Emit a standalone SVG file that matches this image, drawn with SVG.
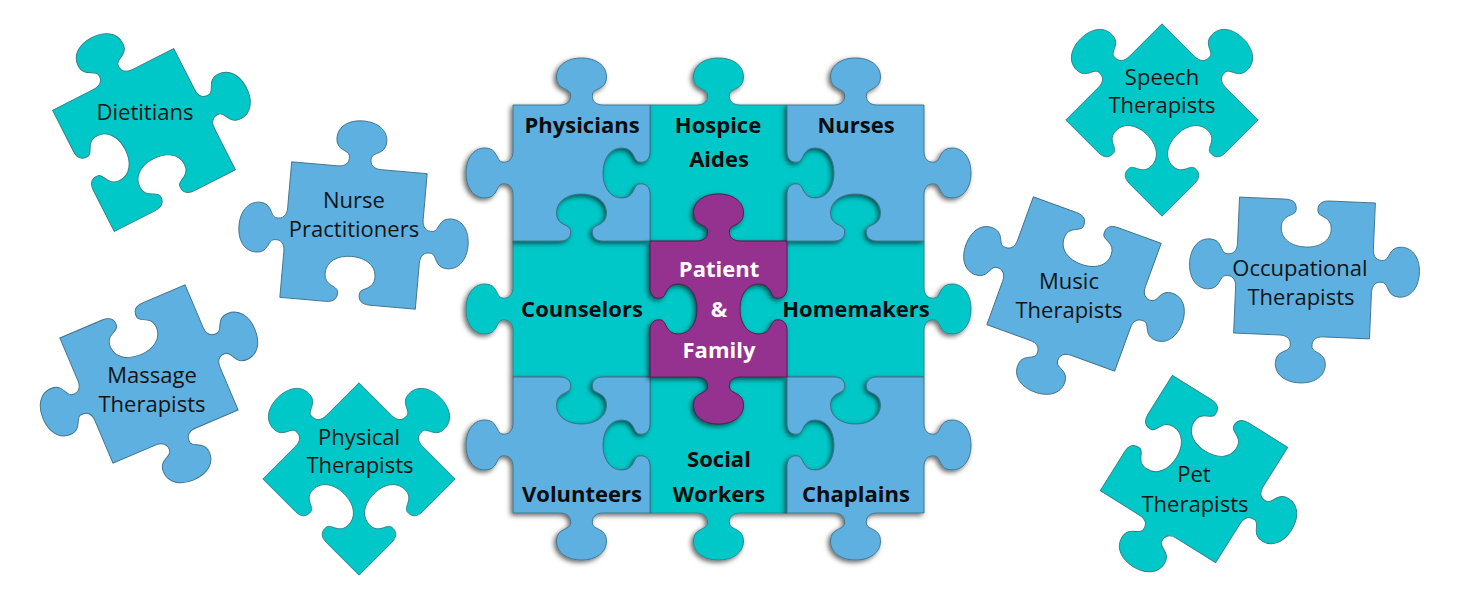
<svg xmlns="http://www.w3.org/2000/svg" xmlns:xlink="http://www.w3.org/1999/xlink" width="1461" height="600" viewBox="0 0 1461 600">
<style>
.blue{fill:#5DB0E0;stroke:#3f6f86;stroke-width:0.9}
.cyan{fill:#00C8C8;stroke:#2f7f86;stroke-width:0.9}
.purple{fill:#95318F;stroke:#4a2048;stroke-width:0.9}
.grid{filter:url(#sh)}
.tb{font-family:"Open Sans","Liberation Sans",sans-serif;font-weight:700;font-size:22px;fill:#0d0d0d;text-anchor:middle}
.tw{fill:#ffffff}
.tr{font-family:"Open Sans","Liberation Sans",sans-serif;font-weight:400;font-size:22px;fill:#141414;text-anchor:middle}
</style>
<defs>
<filter id="sh" x="-20%" y="-20%" width="140%" height="140%">
<feDropShadow dx="-2" dy="2" stdDeviation="2.5" flood-color="#000" flood-opacity="0.6"/>
</filter>
<!-- free piece shapes, 136x136 centred -->
<path id="pTTRTBBLB" d="M-68,-68 h46 c8,0 12,-4 11,-11 c-1,-6 -14,-4 -14,-17 c0,-12 11,-19 25,-19 c14,0 25,7 25,19 c0,13 -13,11 -14,17 c-1,7 3,11 11,11 h46 v46 c0,8 4,12 11,11 c6,-1 4,-14 17,-14 c12,0 19,11 19,25 c0,14 -7,25 -19,25 c-13,0 -11,-13 -17,-14 c-7,-1 -11,3 -11,11 v46 h-46 c-8,0 -12,-4 -11,-11 c1,-6 14,-4 14,-17 c0,-12 -11,-19 -25,-19 c-14,0 -25,7 -25,19 c0,13 13,11 14,17 c1,7 -3,11 -11,11 h-46 v-46 c0,-8 4,-12 11,-11 c6,1 4,14 17,14 c12,0 19,-11 19,-25 c0,-14 -7,-25 -19,-25 c-13,0 -11,13 -17,14 c-7,1 -11,-3 -11,-11 v-46 Z"/>
<path id="pTTRTBBLT" d="M-68,-68 h46 c8,0 12,-4 11,-11 c-1,-6 -14,-4 -14,-17 c0,-12 11,-19 25,-19 c14,0 25,7 25,19 c0,13 -13,11 -14,17 c-1,7 3,11 11,11 h46 v46 c0,8 4,12 11,11 c6,-1 4,-14 17,-14 c12,0 19,11 19,25 c0,14 -7,25 -19,25 c-13,0 -11,-13 -17,-14 c-7,-1 -11,3 -11,11 v46 h-46 c-8,0 -12,-4 -11,-11 c1,-6 14,-4 14,-17 c0,-12 -11,-19 -25,-19 c-14,0 -25,7 -25,19 c0,13 13,11 14,17 c1,7 -3,11 -11,11 h-46 v-46 c0,-8 -4,-12 -11,-11 c-6,1 -4,14 -17,14 c-12,0 -19,-11 -19,-25 c0,-14 7,-25 19,-25 c13,0 11,13 17,14 c7,1 11,-3 11,-11 v-46 Z"/>
<path id="pTBRTBTLT" d="M-68,-68 h46 c8,0 12,4 11,11 c-1,6 -14,4 -14,17 c0,12 11,19 25,19 c14,0 25,-7 25,-19 c0,-13 -13,-11 -14,-17 c-1,-7 3,-11 11,-11 h46 v46 c0,8 4,12 11,11 c6,-1 4,-14 17,-14 c12,0 19,11 19,25 c0,14 -7,25 -19,25 c-13,0 -11,-13 -17,-14 c-7,-1 -11,3 -11,11 v46 h-46 c-8,0 -12,4 -11,11 c1,6 14,4 14,17 c0,12 -11,19 -25,19 c-14,0 -25,-7 -25,-19 c0,-13 13,-11 14,-17 c1,-7 -3,-11 -11,-11 h-46 v-46 c0,-8 -4,-12 -11,-11 c-6,1 -4,14 -17,14 c-12,0 -19,-11 -19,-25 c0,-14 7,-25 19,-25 c13,0 11,13 17,14 c7,1 11,-3 11,-11 v-46 Z"/>
<path id="pTTRBBBLT" d="M-68,-68 h46 c8,0 12,-4 11,-11 c-1,-6 -14,-4 -14,-17 c0,-12 11,-19 25,-19 c14,0 25,7 25,19 c0,13 -13,11 -14,17 c-1,7 3,11 11,11 h46 v46 c0,8 -4,12 -11,11 c-6,-1 -4,-14 -17,-14 c-12,0 -19,11 -19,25 c0,14 7,25 19,25 c13,0 11,-13 17,-14 c7,-1 11,3 11,11 v46 h-46 c-8,0 -12,-4 -11,-11 c1,-6 14,-4 14,-17 c0,-12 -11,-19 -25,-19 c-14,0 -25,7 -25,19 c0,13 13,11 14,17 c1,7 -3,11 -11,11 h-46 v-46 c0,-8 -4,-12 -11,-11 c-6,1 -4,14 -17,14 c-12,0 -19,-11 -19,-25 c0,-14 7,-25 19,-25 c13,0 11,13 17,14 c7,1 11,-3 11,-11 v-46 Z"/>
<path id="pTBRTBTLB" d="M-68,-68 h46 c8,0 12,4 11,11 c-1,6 -14,4 -14,17 c0,12 11,19 25,19 c14,0 25,-7 25,-19 c0,-13 -13,-11 -14,-17 c-1,-7 3,-11 11,-11 h46 v46 c0,8 4,12 11,11 c6,-1 4,-14 17,-14 c12,0 19,11 19,25 c0,14 -7,25 -19,25 c-13,0 -11,-13 -17,-14 c-7,-1 -11,3 -11,11 v46 h-46 c-8,0 -12,4 -11,11 c1,6 14,4 14,17 c0,12 -11,19 -25,19 c-14,0 -25,-7 -25,-19 c0,-13 13,-11 14,-17 c1,-7 -3,-11 -11,-11 h-46 v-46 c0,-8 4,-12 11,-11 c6,1 4,14 17,14 c12,0 19,-11 19,-25 c0,-14 -7,-25 -19,-25 c-13,0 -11,13 -17,14 c-7,1 -11,-3 -11,-11 v-46 Z"/>
</defs>
<rect width="1461" height="600" fill="#ffffff"/>

<!-- central grid: cyan pieces (lowest) -->
<g id="hospice-aides" class="grid">
<path class="cyan" d="M650,105 h46.5 c8,0 12,-4 11,-11 c-1,-6 -14,-4 -14,-17 c0,-12 11,-19 25,-19 c14,0 25,7 25,19 c0,13 -13,11 -14,17 c-1,7 3,11 11,11 h46.5 v46 c0,8 4,12 11,11 c6,-1 4,-14 17,-14 c12,0 19,11 19,25 c0,14 -7,25 -19,25 c-13,0 -11,-13 -17,-14 c-7,-1 -11,3 -11,11 v46 h-46.5 c-8,0 -12,-4 -11,-11 c1,-6 14,-4 14,-17 c0,-12 -11,-19 -25,-19 c-14,0 -25,7 -25,19 c0,13 13,11 14,17 c1,7 -3,11 -11,11 h-46.5 v-46 c0,-8 -4,-12 -11,-11 c-6,1 -4,14 -17,14 c-12,0 -19,-11 -19,-25 c0,-14 7,-25 19,-25 c13,0 11,13 17,14 c7,1 11,-3 11,-11 v-46 Z"/>
</g>
<g id="counselors" class="grid">
<path class="cyan" d="M513,241 h46.5 c8,0 12,-4 11,-11 c-1,-6 -14,-4 -14,-17 c0,-12 11,-19 25,-19 c14,0 25,7 25,19 c0,13 -13,11 -14,17 c-1,7 3,11 11,11 h46.5 v46 c0,8 4,12 11,11 c6,-1 4,-14 17,-14 c12,0 19,11 19,25 c0,14 -7,25 -19,25 c-13,0 -11,-13 -17,-14 c-7,-1 -11,3 -11,11 v46 h-46.5 c-8,0 -12,4 -11,11 c1,6 14,4 14,17 c0,12 -11,19 -25,19 c-14,0 -25,-7 -25,-19 c0,-13 13,-11 14,-17 c1,-7 -3,-11 -11,-11 h-46.5 v-46 c0,-8 -4,-12 -11,-11 c-6,1 -4,14 -17,14 c-12,0 -19,-11 -19,-25 c0,-14 7,-25 19,-25 c13,0 11,13 17,14 c7,1 11,-3 11,-11 v-46 Z"/>
</g>
<g id="homemakers" class="grid">
<path class="cyan" d="M787,241 h46.5 c8,0 12,-4 11,-11 c-1,-6 -14,-4 -14,-17 c0,-12 11,-19 25,-19 c14,0 25,7 25,19 c0,13 -13,11 -14,17 c-1,7 3,11 11,11 h46.5 v46 c0,8 4,12 11,11 c6,-1 4,-14 17,-14 c12,0 19,11 19,25 c0,14 -7,25 -19,25 c-13,0 -11,-13 -17,-14 c-7,-1 -11,3 -11,11 v46 h-46.5 c-8,0 -12,4 -11,11 c1,6 14,4 14,17 c0,12 -11,19 -25,19 c-14,0 -25,-7 -25,-19 c0,-13 13,-11 14,-17 c1,-7 -3,-11 -11,-11 h-46.5 v-46 c0,-8 -4,-12 -11,-11 c-6,1 -4,14 -17,14 c-12,0 -19,-11 -19,-25 c0,-14 7,-25 19,-25 c13,0 11,13 17,14 c7,1 11,-3 11,-11 v-46 Z"/>
</g>
<g id="social-workers" class="grid">
<path class="cyan" d="M650,377 h46.5 c8,0 12,4 11,11 c-1,6 -14,4 -14,17 c0,12 11,19 25,19 c14,0 25,-7 25,-19 c0,-13 -13,-11 -14,-17 c-1,-7 3,-11 11,-11 h46.5 v46 c0,8 4,12 11,11 c6,-1 4,-14 17,-14 c12,0 19,11 19,25 c0,14 -7,25 -19,25 c-13,0 -11,-13 -17,-14 c-7,-1 -11,3 -11,11 v46 h-46.5 c-8,0 -12,4 -11,11 c1,6 14,4 14,17 c0,12 -11,19 -25,19 c-14,0 -25,-7 -25,-19 c0,-13 13,-11 14,-17 c1,-7 -3,-11 -11,-11 h-46.5 v-46 c0,-8 -4,-12 -11,-11 c-6,1 -4,14 -17,14 c-12,0 -19,-11 -19,-25 c0,-14 7,-25 19,-25 c13,0 11,13 17,14 c7,1 11,-3 11,-11 v-46 Z"/>
</g>

<!-- central grid: blue pieces -->
<g id="physicians" class="grid">
<path class="blue" d="M513,105 h46.5 c8,0 12,-4 11,-11 c-1,-6 -14,-4 -14,-17 c0,-12 11,-19 25,-19 c14,0 25,7 25,19 c0,13 -13,11 -14,17 c-1,7 3,11 11,11 h46.5 v46 c0,8 -4,12 -11,11 c-6,-1 -4,-14 -17,-14 c-12,0 -19,11 -19,25 c0,14 7,25 19,25 c13,0 11,-13 17,-14 c7,-1 11,3 11,11 v46 h-46.5 c-8,0 -12,-4 -11,-11 c1,-6 14,-4 14,-17 c0,-12 -11,-19 -25,-19 c-14,0 -25,7 -25,19 c0,13 13,11 14,17 c1,7 -3,11 -11,11 h-46.5 v-46 c0,-8 -4,-12 -11,-11 c-6,1 -4,14 -17,14 c-12,0 -19,-11 -19,-25 c0,-14 7,-25 19,-25 c13,0 11,13 17,14 c7,1 11,-3 11,-11 v-46 Z"/>
</g>
<g id="nurses" class="grid">
<path class="blue" d="M787,105 h46.5 c8,0 12,-4 11,-11 c-1,-6 -14,-4 -14,-17 c0,-12 11,-19 25,-19 c14,0 25,7 25,19 c0,13 -13,11 -14,17 c-1,7 3,11 11,11 h46.5 v46 c0,8 4,12 11,11 c6,-1 4,-14 17,-14 c12,0 19,11 19,25 c0,14 -7,25 -19,25 c-13,0 -11,-13 -17,-14 c-7,-1 -11,3 -11,11 v46 h-46.5 c-8,0 -12,-4 -11,-11 c1,-6 14,-4 14,-17 c0,-12 -11,-19 -25,-19 c-14,0 -25,7 -25,19 c0,13 13,11 14,17 c1,7 -3,11 -11,11 h-46.5 v-46 c0,-8 4,-12 11,-11 c6,1 4,14 17,14 c12,0 19,-11 19,-25 c0,-14 -7,-25 -19,-25 c-13,0 -11,13 -17,14 c-7,1 -11,-3 -11,-11 v-46 Z"/>
</g>
<g id="volunteers" class="grid">
<path class="blue" d="M513,377 h46.5 c8,0 12,4 11,11 c-1,6 -14,4 -14,17 c0,12 11,19 25,19 c14,0 25,-7 25,-19 c0,-13 -13,-11 -14,-17 c-1,-7 3,-11 11,-11 h46.5 v46 c0,8 -4,12 -11,11 c-6,-1 -4,-14 -17,-14 c-12,0 -19,11 -19,25 c0,14 7,25 19,25 c13,0 11,-13 17,-14 c7,-1 11,3 11,11 v46 h-46.5 c-8,0 -12,4 -11,11 c1,6 14,4 14,17 c0,12 -11,19 -25,19 c-14,0 -25,-7 -25,-19 c0,-13 13,-11 14,-17 c1,-7 -3,-11 -11,-11 h-46.5 v-46 c0,-8 -4,-12 -11,-11 c-6,1 -4,14 -17,14 c-12,0 -19,-11 -19,-25 c0,-14 7,-25 19,-25 c13,0 11,13 17,14 c7,1 11,-3 11,-11 v-46 Z"/>
</g>
<g id="chaplains" class="grid">
<path class="blue" d="M787,377 h46.5 c8,0 12,4 11,11 c-1,6 -14,4 -14,17 c0,12 11,19 25,19 c14,0 25,-7 25,-19 c0,-13 -13,-11 -14,-17 c-1,-7 3,-11 11,-11 h46.5 v46 c0,8 4,12 11,11 c6,-1 4,-14 17,-14 c12,0 19,11 19,25 c0,14 -7,25 -19,25 c-13,0 -11,-13 -17,-14 c-7,-1 -11,3 -11,11 v46 h-46.5 c-8,0 -12,4 -11,11 c1,6 14,4 14,17 c0,12 -11,19 -25,19 c-14,0 -25,-7 -25,-19 c0,-13 13,-11 14,-17 c1,-7 -3,-11 -11,-11 h-46.5 v-46 c0,-8 4,-12 11,-11 c6,1 4,14 17,14 c12,0 19,-11 19,-25 c0,-14 -7,-25 -19,-25 c-13,0 -11,13 -17,14 c-7,1 -11,-3 -11,-11 v-46 Z"/>
</g>

<!-- central: patient & family -->
<g id="patient-family" class="grid">
<path class="purple" d="M650,241 h46.5 c8,0 12,-4 11,-11 c-1,-6 -14,-4 -14,-17 c0,-12 11,-19 25,-19 c14,0 25,7 25,19 c0,13 -13,11 -14,17 c-1,7 3,11 11,11 h46.5 v46 c0,8 -4,12 -11,11 c-6,-1 -4,-14 -17,-14 c-12,0 -19,11 -19,25 c0,14 7,25 19,25 c13,0 11,-13 17,-14 c7,-1 11,3 11,11 v46 h-46.5 c-8,0 -12,4 -11,11 c1,6 14,4 14,17 c0,12 -11,19 -25,19 c-14,0 -25,-7 -25,-19 c0,-13 13,-11 14,-17 c1,-7 -3,-11 -11,-11 h-46.5 v-46 c0,-8 4,-12 11,-11 c6,1 4,14 17,14 c12,0 19,-11 19,-25 c0,-14 -7,-25 -19,-25 c-13,0 -11,13 -17,14 c-7,1 -11,-3 -11,-11 v-46 Z"/>
</g>

<!-- grid labels -->
<g id="grid-labels">
<text class="tb" x="582" y="133">Physicians</text>
<text class="tb" x="718" y="133">Hospice</text>
<text class="tb" x="719" y="167">Aides</text>
<text class="tb" x="856" y="133">Nurses</text>
<text class="tb" x="582" y="317">Counselors</text>
<text class="tb tw" x="719" y="277">Patient</text>
<text class="tb tw" x="719" y="317">&amp;</text>
<text class="tb tw" x="719" y="358">Family</text>
<text class="tb" x="856" y="317">Homemakers</text>
<text class="tb" x="582" y="502">Volunteers</text>
<text class="tb" x="719" y="467">Social</text>
<text class="tb" x="719" y="502">Workers</text>
<text class="tb" x="856" y="502">Chaplains</text>
</g>

<!-- free pieces -->
<g id="dietitians">
<use href="#pTTRTBBLB" class="cyan" transform="translate(144,140) rotate(-27)"/>
<text class="tr" x="145" y="120">Dietitians</text>
</g>
<g id="nurse-practitioners">
<use href="#pTTRTBBLT" class="blue" transform="translate(353.5,235.5) rotate(5)"/>
<text class="tr" x="354" y="208">Nurse</text>
<text class="tr" x="354" y="237">Practitioners</text>
</g>
<g id="massage-therapists">
<use href="#pTBRTBTLT" class="blue" transform="translate(149,374) rotate(-23)"/>
<text class="tr" x="152" y="383">Massage</text>
<text class="tr" x="152" y="412">Therapists</text>
</g>
<g id="physical-therapists">
<use href="#pTTRBBBLT" class="cyan" transform="translate(359,479) rotate(45)"/>
<text class="tr" x="359" y="445">Physical</text>
<text class="tr" x="360" y="473">Therapists</text>
</g>
<g id="speech-therapists">
<use href="#pTTRBBBLT" class="cyan" transform="translate(1162,120) rotate(45)"/>
<text class="tr" x="1162" y="85">Speech</text>
<text class="tr" x="1162" y="113">Therapists</text>
</g>
<g id="music-therapists">
<use href="#pTBRTBTLT" class="blue" transform="translate(1074,284) rotate(20)"/>
<text class="tr" x="1069" y="289">Music</text>
<text class="tr" x="1069" y="318">Therapists</text>
</g>
<g id="occupational-therapists">
<use href="#pTBRTBTLT" class="blue" transform="translate(1304.5,268) rotate(2.5)"/>
<text class="tr" x="1300" y="276">Occupational</text>
<text class="tr" x="1301" y="305">Therapists</text>
</g>
<g id="pet-therapists">
<use href="#pTBRTBTLB" class="cyan" transform="translate(1194,469) rotate(32)"/>
<text class="tr" x="1194" y="482">Pet</text>
<text class="tr" x="1195" y="512">Therapists</text>
</g>
</svg>
